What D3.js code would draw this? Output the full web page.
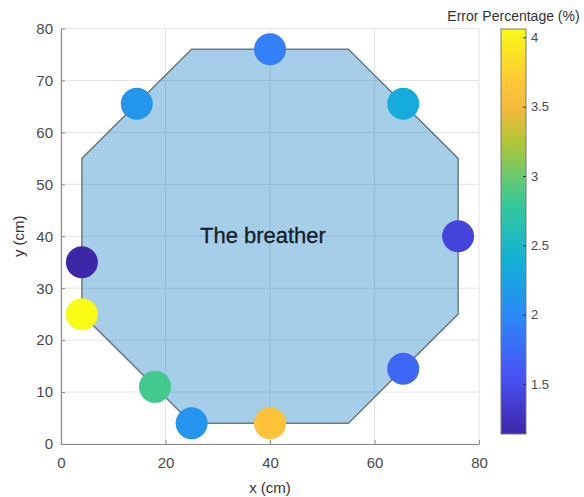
<!DOCTYPE html>
<html>
<head>
<meta charset="utf-8">
<script src="https://cdn.jsdelivr.net/npm/d3@7"></script>
<style>
  html, body { margin: 0; padding: 0; background: #fff; }
  svg { display: block; font-family: "Liberation Sans", Arial, sans-serif; }
</style>
</head>
<body>
<svg id="chart" width="584" height="497"></svg>
<script>
// Outline of the breather (octagon), in cm
const outlineX = [25, 55, 76, 76, 55, 25, 4, 4];
const outlineY = [76, 76, 55, 25, 4, 4, 25, 55];

// Sensor positions (cm) and error percentage at each
const sensorX = [40, 65.5, 76, 65.5, 40, 25, 18, 4, 4, 14.5];
const sensorY = [76, 65.5, 40, 14.5, 4, 4, 11, 25, 35, 65.5];
const errorPct = [1.92, 2.33, 1.43, 1.72, 3.63, 2.1, 2.85, 4.06, 1.14, 2.12];

// Tick values
const xTicks = [0, 20, 40, 60, 80];
const yTicks = [0, 10, 20, 30, 40, 50, 60, 70, 80];
const cTicks = [1.5, 2, 2.5, 3, 3.5, 4];

// parula key colours and where they sit along the map (0..1)
const parulaPos = [0, 1 / 7, 2 / 7, 3 / 7, 4 / 7, 5 / 7, 0.8, 6 / 7, 1];
const parulaCol = ["#3e26a8", "#4852f4", "#2d87f7", "#11b1d6", "#37c897", "#abc739", "#f0ba3a", "#fec338", "#f9fb15"];

const svg = d3.select("#chart");

const x = d3.scaleLinear().domain([0, 80]).range([61, 479]);
const y = d3.scaleLinear().domain([0, 80]).range([444, 28.5]);

const cMin = d3.min(errorPct), cMax = d3.max(errorPct);
const color = d3.scaleLinear()
  .domain(parulaPos.map(p => cMin + p * (cMax - cMin)))
  .range(parulaCol)
  .interpolate(d3.interpolateRgb)
  .clamp(true);

// grid lines
const grid = svg.append("g");
grid.selectAll("line.gx").data(xTicks).join("line")
  .attr("x1", d => x(d)).attr("x2", d => x(d))
  .attr("y1", y(0)).attr("y2", y(80))
  .attr("stroke", "#e4e4e4").attr("stroke-width", 1);
grid.selectAll("line.gy").data(yTicks).join("line")
  .attr("x1", x(0)).attr("x2", x(80))
  .attr("y1", d => y(d)).attr("y2", d => y(d))
  .attr("stroke", "#e4e4e4").attr("stroke-width", 1);

// breather outline
const outline = outlineX.map((v, i) => [x(v), y(outlineY[i])]);
svg.append("path")
  .attr("d", d3.line()(outline) + "Z")
  .attr("fill", "#0072bd").attr("fill-opacity", 0.35)
  .attr("stroke", "#6e7a85").attr("stroke-width", 1.5);

svg.append("text")
  .attr("x", (x(26) + x(51.3)) / 2).attr("y", y(40) + 7)
  .attr("text-anchor", "middle")
  .attr("font-size", 22).attr("fill", "#131d28")
  .attr("stroke", "#131d28").attr("stroke-width", 0.3)
  .text("The breather");

// axes
const axisStyle = g => {
  g.select(".domain").attr("stroke", "#8a8a8a").attr("stroke-width", 1.2);
  g.selectAll(".tick line").attr("stroke", "#8a8a8a");
  g.selectAll(".tick text").attr("fill", "#4a4a4a").attr("font-size", 15)
    .attr("font-family", "Liberation Sans, Arial, sans-serif");
};
svg.append("g").attr("transform", `translate(0,${y(0)})`)
  .call(d3.axisBottom(x).tickValues(xTicks).tickSizeInner(-4).tickSizeOuter(0).tickPadding(13))
  .call(axisStyle);
svg.append("g").attr("transform", `translate(${x(0)},0)`)
  .call(d3.axisLeft(y).tickValues(yTicks).tickSizeInner(-4).tickSizeOuter(0).tickPadding(8))
  .call(axisStyle);

svg.append("text")
  .attr("x", x(40)).attr("y", 493)
  .attr("text-anchor", "middle").attr("font-size", 15).attr("fill", "#333")
  .text("x (cm)");
svg.append("text")
  .attr("transform", `translate(24,${y(40)}) rotate(-90)`)
  .attr("text-anchor", "middle").attr("font-size", 15).attr("fill", "#333")
  .text("y (cm)");

// sensors
svg.append("g").selectAll("circle").data(errorPct).join("circle")
  .attr("cx", (d, i) => x(sensorX[i]))
  .attr("cy", (d, i) => y(sensorY[i]))
  .attr("r", 16)
  .attr("fill", d => color(d));

// colour bar
const cbX = 501, cbW = 25;
const cy = d3.scaleLinear().domain([cMin, cMax]).range([434, 29]);
const grad = svg.append("defs").append("linearGradient")
  .attr("id", "cbgrad").attr("x1", 0).attr("x2", 0).attr("y1", 1).attr("y2", 0);
grad.selectAll("stop").data(d3.range(0, 1.0001, 0.02)).join("stop")
  .attr("offset", d => d)
  .attr("stop-color", d => color(cMin + d * (cMax - cMin)));
svg.append("rect")
  .attr("x", cbX).attr("y", cy(cMax))
  .attr("width", cbW).attr("height", cy(cMin) - cy(cMax))
  .attr("fill", "url(#cbgrad)")
  .attr("stroke", "#7a7a7a").attr("stroke-width", 1);
const cAxis = svg.append("g").attr("transform", `translate(${cbX + cbW},0)`)
  .call(d3.axisRight(cy).tickValues(cTicks).tickFormat(d3.format("")).tickSizeInner(-3).tickSizeOuter(0).tickPadding(5));
cAxis.select(".domain").remove();
cAxis.selectAll(".tick line").attr("stroke", "#333");
cAxis.selectAll(".tick text").attr("fill", "#4a4a4a").attr("font-size", 13)
  .attr("font-family", "Liberation Sans, Arial, sans-serif");

svg.append("text")
  .attr("x", cbX + cbW / 2).attr("y", 21)
  .attr("text-anchor", "middle").attr("font-size", 14).attr("fill", "#333")
  .text("Error Percentage (%)");
</script>
</body>
</html>
